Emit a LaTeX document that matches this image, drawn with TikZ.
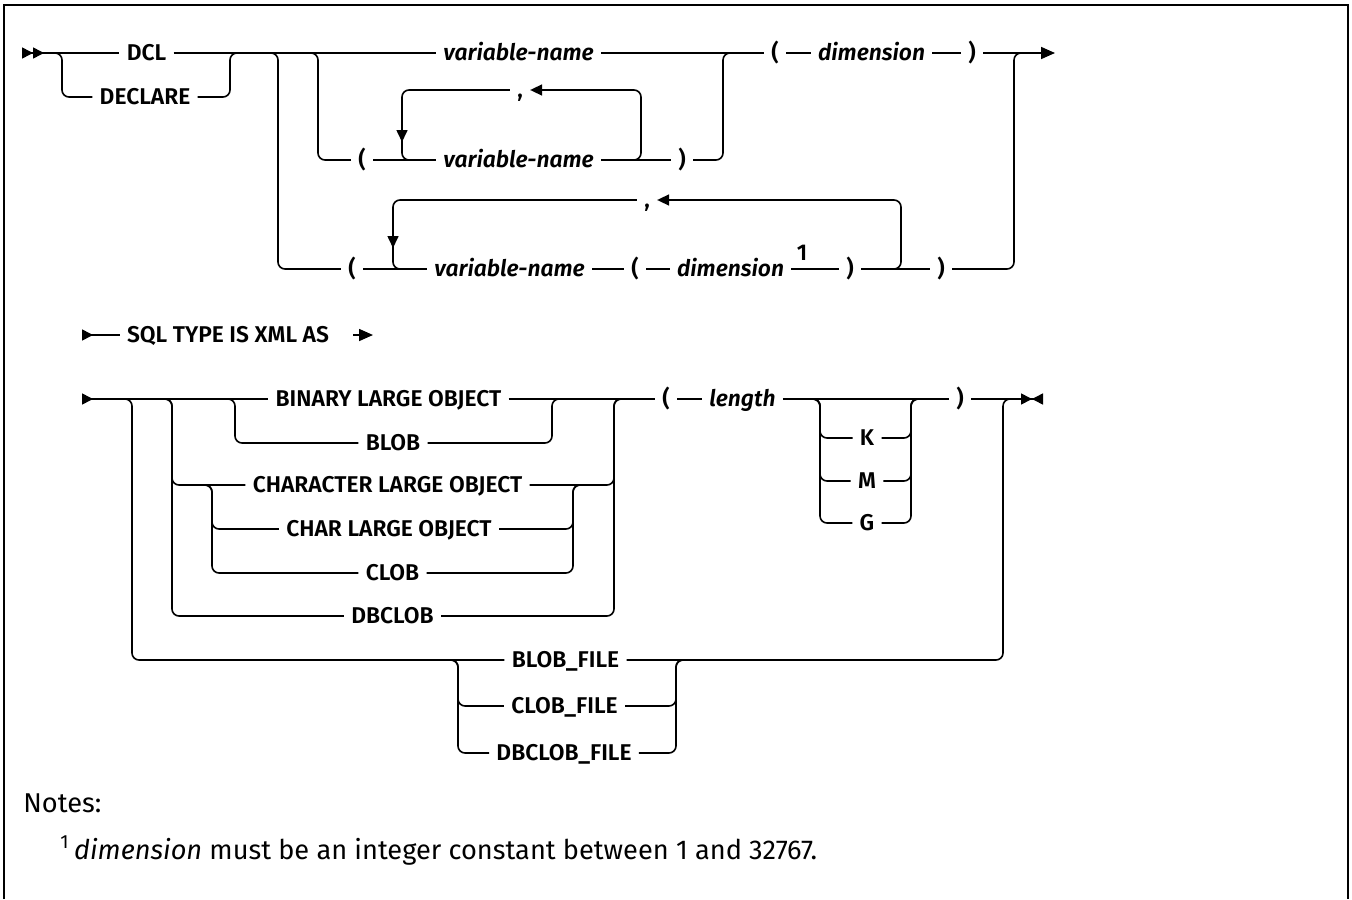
\documentclass[tikz,border=0pt]{standalone}
\usepackage{fontspec}
\setmainfont{Fira Sans}
\newfontfamily\railfont{Fira Sans SemiBold}[ItalicFont={Fira Sans SemiBold Italic}]
\usepackage{tikz}
\usetikzlibrary{arrows.meta}

\begin{document}
\begin{tikzpicture}[
  x=0.5pt, y=-0.5pt,
  track/.style={line width=0.8pt, rounded corners=3.5pt},
  kw/.style={font=\railfont\fontsize{11.4}{13}\selectfont, inner xsep=3.5pt, inner ysep=0pt, text height=7.8pt, text depth=0pt},
  var/.style={kw, font=\railfont\itshape\fontsize{11.4}{13}\selectfont},
  note/.style={font=\fontsize{13.6}{16}\selectfont, inner sep=0pt},
  endtip/.tip={Triangle[length=7pt,width=6pt]},
  looptip/.tip={Triangle[length=6pt,width=5.5pt]},
  onetip/.tip={Triangle[length=5.5pt,width=5.5pt,reversed]},
  twotip/.tip={Triangle[length=5.5pt,width=5.5pt,reversed,sep=0pt]Triangle[length=5.5pt,width=5.5pt,reversed]},
  bowtip/.tip={Triangle[length=5.5pt,width=5.5pt,sep=0pt]Triangle[length=5.5pt,width=5.5pt,reversed]}
]
\useasboundingbox (0,0) rectangle (1352,899);
\draw[line width=1.3pt] (4,899) -- (4,5) -- (1348,5) -- (1348,899);

% first statement part
\coordinate (r1s) at (22,53);
\coordinate (r1e) at (1055,53);
\node[kw] (dcl) at (146.5,53) {DCL};
\node[kw] (declare) at (145,97) {DECLARE};
\node[var] (vn1) at (518.5,53) {variable-name};
\node[kw] (lp1) at (775,53) {(};
\node[var] (dim1) at (871.5,53) {dimension};
\node[kw] (rp1) at (972,53) {)};
\node[kw] (lp2) at (362,160) {(};
\node[var] (vn2) at (518.5,160) {variable-name};
\node[kw] (rp2) at (682,160) {)};
\node[kw] (comma2) at (520,90) {,};
\node[kw] (lp3) at (352,269) {(};
\node[var] (vn3) at (509.5,269) {variable-name};
\node[kw] (lp3b) at (635,269) {(};
\node[var] (dim3) at (730.5,269) {dimension};
\node[kw] (sup1) at (802,253) {1};
\node[kw] (rp3) at (850,269) {)};
\node[kw] (rp3b) at (941,269) {)};
\node[kw] (comma3) at (647,200) {,};

\draw[track, {twotip}-] (r1s) -- (dcl.west);
\draw[track] (dcl.east) -- (vn1.west);
\draw[track] (vn1.east) -- (lp1.west);
\draw[track] (lp1.east) -- (dim1.west);
\draw[track] (dim1.east) -- (rp1.west);
\draw[track, -{endtip}] (rp1.east) -- (r1e);
\draw[track] (52,53) -- (62,53) |- (declare.west);
\draw[track] (declare.east) -| (230,53) -- (240,53);
\draw[track] (268,53) -- (278,53) |- (lp3.west);
\draw[track] (308,53) -- (318,53) |- (lp2.west);
\draw[track] (lp2.east) -- (vn2.west);
\draw[track] (vn2.east) -- (rp2.west);
\draw[track] (rp2.east) -| (723,53) -- (733,53);
\draw[track, -{looptip}] (631,160) -| (641,90) -- (comma2.east);
\draw[track, -{looptip}] (comma2.west) -| (402,142);
\draw[track] (402,138) |- (vn2.west);
\draw[track] (lp3.east) -- (vn3.west);
\draw[track] (vn3.east) -- (lp3b.west);
\draw[track] (lp3b.east) -- (dim3.west);
\draw[track] (dim3.east) -- (rp3.west);
\draw[track] (rp3.east) -- (rp3b.west);
\draw[track] (rp3b.east) -| (1014,53) -- (1024,53);
\draw[track, -{looptip}] (891,269) -| (901,200) -- (comma3.east);
\draw[track, -{looptip}] (comma3.west) -| (393,248);
\draw[track] (393,244) |- (vn3.west);

% sql type line
\coordinate (r2s) at (82,335);
\coordinate (r2e) at (373,335);
\node[kw] (sql) at (228,335) {SQL TYPE IS XML AS};
\draw[track, {onetip}-] (r2s) -- (sql.west);
\draw[track, -{endtip}] ([xshift=8.5pt]sql.east) -- (r2e);

% type choices
\coordinate (r3s) at (82,399);
\coordinate (r3e) at (1043,399);
\node[kw] (binary) at (388.5,399) {BINARY LARGE OBJECT};
\node[kw] (blob) at (393,443) {BLOB};
\node[kw] (character) at (387.5,485) {CHARACTER LARGE OBJECT};
\node[kw] (charlarge) at (389,529) {CHAR LARGE OBJECT};
\node[kw] (clob) at (392.5,573) {CLOB};
\node[kw] (dbclob) at (392.5,616) {DBCLOB};
\node[kw] (lp4) at (666,399) {(};
\node[var] (length) at (742.5,399) {length};
\node[kw] (kk) at (867,438) {K};
\node[kw] (mm) at (867,481) {M};
\node[kw] (gg) at (867,523) {G};
\node[kw] (rp4) at (960,399) {)};
\node[kw] (blobfile) at (565.5,660) {BLOB\_FILE};
\node[kw] (clobfile) at (564.5,706) {CLOB\_FILE};
\node[kw] (dbclobfile) at (564,753) {DBCLOB\_FILE};

\draw[track, {onetip}-] (r3s) -- (binary.west);
\draw[track] (binary.east) -- (lp4.west);
\draw[track] (lp4.east) -- (length.west);
\draw[track] (length.east) -- (rp4.west);
\draw[track, -{bowtip}] (rp4.east) -- (r3e);
\draw[track] (122,399) -- (132,399) |- (blobfile.west);
\draw[track] (162,399) -- (172,399) |- (dbclob.west);
\draw[track] (162,399) -- (172,399) |- (character.west);
\draw[track] (225,399) -- (235,399) |- (blob.west);
\draw[track] (202,485) -- (212,485) |- (charlarge.west);
\draw[track] (202,485) -- (212,485) |- (clob.west);
\draw[track] (blob.east) -| (552,399) -- (562,399);
\draw[track] (charlarge.east) -| (573,485) -- (583,485);
\draw[track] (clob.east) -| (573,485) -- (583,485);
\draw[track] (character.east) -| (614,399) -- (624,399);
\draw[track] (dbclob.east) -| (614,399) -- (624,399);
\draw[track] (810,399) -- (820,399) |- (kk.west);
\draw[track] (810,399) -- (820,399) |- (mm.west);
\draw[track] (810,399) -- (820,399) |- (gg.west);
\draw[track] (kk.east) -| (911,399) -- (921,399);
\draw[track] (mm.east) -| (911,399) -- (921,399);
\draw[track] (gg.east) -| (911,399) -- (921,399);
\draw[track] (448,660) -- (458,660) |- (clobfile.west);
\draw[track] (448,660) -- (458,660) |- (dbclobfile.west);
\draw[track] (clobfile.east) -| (676,660) -- (686,660);
\draw[track] (dbclobfile.east) -| (676,660) -- (686,660);
\draw[track] (blobfile.east) -| (1003,399) -- (1013,399);

% notes
\node[note, anchor=west] (notes) at (23,803) {Notes:};
\node[note, anchor=base west] (fn1) at (60,859) {\textsuperscript{1}\,\textit{dimension} must be an integer constant between 1 and 32767.};
\end{tikzpicture}
\end{document}
